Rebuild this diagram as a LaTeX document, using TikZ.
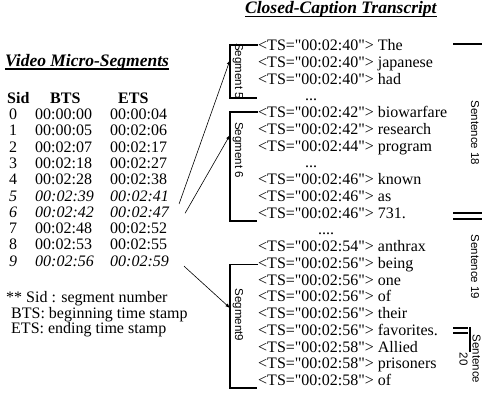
\documentclass[tikz,border=0pt]{standalone}
\usepackage{fontspec}
\setmainfont{Liberation Serif}[Ligatures=TeXOff]
\setsansfont{Liberation Sans}
\usetikzlibrary{positioning}

\newcommand\segrow[3]{\makebox[26pt][l]{#1}\makebox[75pt][l]{#2}#3}
\newcommand\tsline[2]{<TS="#1"> #2}

\begin{document}
\begin{tikzpicture}[x=1pt, y=-1pt, >=latex]
	% common styles
	\tikzset{
		txt/.style={anchor=base west, inner sep=0pt, font=\fontsize{16}{18}\selectfont},
		heading/.style={anchor=base west, inner sep=0pt, font=\fontsize{17.5}{20}\selectfont\bfseries\itshape},
		sidelabel/.style={rotate=-90, inner sep=0pt, align=center, font=\sffamily\fontsize{11.5}{13}\selectfont},
		bracket/.style={line width=1.6pt},
		uline/.style={line width=1.3pt},
		link/.style={->, line width=0.6pt}
	}
	\useasboundingbox (0,0) rectangle (482,392);

	% titles
	\node[heading] (vtitle) at (5,66) {Video Micro-Segments};
	\draw[uline] ([yshift=-3pt]vtitle.base west) -- ([yshift=-3pt]vtitle.base east);
	\node[heading] (ctitle) at (245,13.5) {Closed-Caption Transcript};
	\draw[uline] ([yshift=-3pt]ctitle.base west) -- ([yshift=-3pt]ctitle.base east);

	% segment table
	\node[txt, font=\fontsize{16}{18}\selectfont\bfseries] (head) at (7,103.5) {\makebox[43pt][l]{Sid}\makebox[68pt][l]{BTS}ETS};
	\node[txt] (r0) at (9,119.5) {\segrow{0}{00:00:00}{00:00:04}};
	\node[txt] (r1) at (9,135.8) {\segrow{1}{00:00:05}{00:02:06}};
	\node[txt] (r2) at (9,152.1) {\segrow{2}{00:02:07}{00:02:17}};
	\node[txt] (r3) at (9,168.4) {\segrow{3}{00:02:18}{00:02:27}};
	\node[txt] (r4) at (9,184.7) {\segrow{4}{00:02:28}{00:02:38}};
	\node[txt] (r5) at (9,201.0) {\itshape\segrow{5}{00:02:39}{00:02:41}};
	\node[txt] (r6) at (9,217.3) {\itshape\segrow{6}{00:02:42}{00:02:47}};
	\node[txt] (r7) at (9,233.6) {\segrow{7}{00:02:48}{00:02:52}};
	\node[txt] (r8) at (9,249.9) {\segrow{8}{00:02:53}{00:02:55}};
	\node[txt] (r9) at (9,266.2) {\itshape\segrow{9}{00:02:56}{00:02:59}};

	% legend
	\node[txt] (key1) at (6,302) {** Sid : segment number};
	\node[txt] (key2) at (11,318) {BTS: beginning time stamp};
	\node[txt] (key3) at (11,333) {ETS: ending time stamp};

	% transcript lines
	\node[txt] (t0) at (258,50.5) {\tsline{00:02:40}{The}};
	\node[txt] (t1) at (258,67.25) {\tsline{00:02:40}{japanese}};
	\node[txt] (t2) at (258,84) {\tsline{00:02:40}{had}};
	\node[txt] (t3) at (305,100.75) {...};
	\node[txt] (t4) at (258,117.5) {\tsline{00:02:42}{biowarfare}};
	\node[txt] (t5) at (258,134.25) {\tsline{00:02:42}{research}};
	\node[txt] (t6) at (258,151) {\tsline{00:02:44}{program}};
	\node[txt] (t7) at (305,167.75) {...};
	\node[txt] (t8) at (258,184.5) {\tsline{00:02:46}{known}};
	\node[txt] (t9) at (258,201.25) {\tsline{00:02:46}{as}};
	\node[txt] (t10) at (258,218) {\tsline{00:02:46}{731.}};
	\node[txt] (t11) at (318,234.75) {....};
	\node[txt] (t12) at (258,251.5) {\tsline{00:02:54}{anthrax}};
	\node[txt] (t13) at (258,268.25) {\tsline{00:02:56}{being}};
	\node[txt] (t14) at (258,285) {\tsline{00:02:56}{one}};
	\node[txt] (t15) at (258,301.75) {\tsline{00:02:56}{of}};
	\node[txt] (t16) at (258,318.5) {\tsline{00:02:56}{their}};
	\node[txt] (t17) at (258,335.25) {\tsline{00:02:56}{favorites.}};
	\node[txt] (t18) at (258,352) {\tsline{00:02:58}{Allied}};
	\node[txt] (t19) at (258,368.75) {\tsline{00:02:58}{prisoners}};
	\node[txt] (t20) at (258,385.5) {\tsline{00:02:58}{of}};

	% segment brackets
	\draw[bracket] (t0.west) -| (230,98) -- (257,98);
	\draw[bracket] (t4.west) -| (230,221) -- (257,221);
	\draw[bracket] (t13.west) -| (230,388) -- (257,388);
	\node[sidelabel] (seg5) at (238,71) {Segment 5};
	\node[sidelabel] (seg6) at (238,150) {Segment 6};
	\node[sidelabel] (seg9) at (238,315) {Segment9};
	\coordinate (seg5in) at (230,60);
	\coordinate (seg6in) at (230,135);
	\coordinate (seg9in) at (230,308);

	% links from the table
	\draw[link] ([xshift=10pt,yshift=-3pt]r5.base east) -- (seg5in);
	\draw[link] ([xshift=16pt,yshift=4pt]r6.base east) -- (seg6in);
	\draw[link] ([xshift=15pt]r9.base east) -- (seg9in);

	% sentence brackets
	\draw[bracket] (453,44) -- (482,44);
	\draw[bracket] (453,213) -- (482,213);
	\draw[bracket] (453,219) -- (482,219);
	\draw[bracket] (453,328) -- (468,328);
	\draw[bracket] (453,333) -- (468,333);
	\draw[bracket] (470,327) -- (470,352);
	\node[sidelabel] (sent18) at (475,133) {Sentence 18};
	\node[sidelabel] (sent19) at (475,267) {Sentence 19};
	\node[sidelabel] (sent20) at (470,359) {Sentence\\20};
\end{tikzpicture}
\end{document}
